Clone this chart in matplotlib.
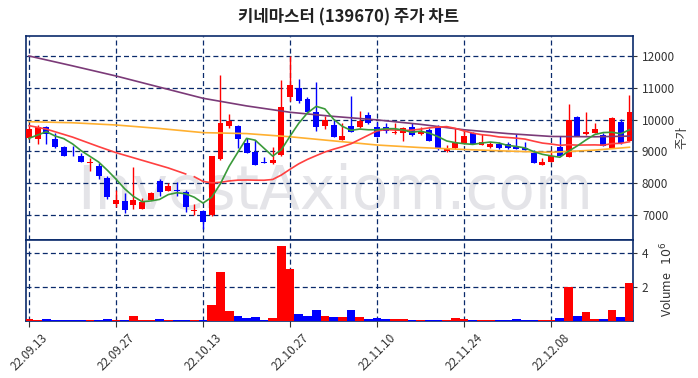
import numpy as np
import pandas as pd
import matplotlib
matplotlib.use("Agg")
import matplotlib.pyplot as plt

plt.rcParams['font.family'] = ['Noto Sans CJK KR', 'DejaVu Sans']

# trading-day labels (every 10th session)
tick_idx = [0, 10, 20, 30, 40, 50, 60]
tick_labels = ['22.09.13', '22.09.27', '22.10.13', '22.10.27', '22.11.10', '22.11.24', '22.12.08']

opens = [9410, 9380, 9780, 9390, 9150, 8900, 8850, 8630, 8540, 8160,
         7350, 7440, 7330, 7200, 7470, 8070, 7760, 7790, 7710, 7110,
         7130, 6990, 8750, 9800, 9800, 9250, 8970, 8660, 8630, 8890,
         10720, 10980, 10640, 10250, 9800, 9830, 9360, 9800, 9760, 10140,
         9780, 9780, 9570, 9570, 9780, 9540, 9670, 9780, 9020, 9100,
         9250, 9570, 9200, 9130, 9230, 9220, 9150, 9120, 8960, 8570,
         8680, 9150, 8830, 10090, 9540, 9590, 9520, 9120, 9910, 9340]
highs = [9800, 9830, 9800, 9580, 9180, 9170, 8960, 8780, 8645, 8230,
         7790, 7680, 8520, 7520, 7720, 8130, 8020, 8040, 7790, 7350,
         7160, 8860, 11400, 10170, 9830, 9410, 9360, 8830, 9130, 11250,
         12000, 11270, 10720, 11170, 10110, 10010, 9880, 10740, 10280, 10240,
         9930, 9900, 9900, 9780, 9900, 9780, 9750, 9830, 9200, 9730,
         9700, 9600, 9550, 9280, 9300, 9300, 9540, 9300, 9040, 8780,
         9040, 9480, 10490, 10100, 10240, 9880, 9570, 10070, 10010, 10770]
lows = [9400, 9230, 9230, 9120, 8860, 8870, 8660, 8390, 8140, 7490,
        7260, 7050, 7180, 7190, 7460, 7600, 7750, 7600, 7100, 7000,
        6550, 6980, 8740, 9730, 9100, 8940, 8560, 8620, 8590, 8850,
        10570, 10510, 10230, 9630, 9700, 9440, 9350, 9600, 9740, 9860,
        9440, 9570, 9560, 9330, 9480, 9530, 9330, 9040, 8970, 9090,
        9230, 9220, 9190, 9120, 9090, 9090, 9060, 9030, 8640, 8560,
        8670, 8850, 8830, 9470, 9530, 9580, 9160, 9110, 9240, 9330]
closes = [9700, 9760, 9540, 9130, 8870, 8880, 8680, 8660, 8240, 7580,
          7470, 7160, 7470, 7410, 7700, 7710, 7920, 7760, 7240, 7160,
          6790, 8850, 9890, 9970, 9380, 8960, 8560, 8630, 8730, 10390,
          11090, 10590, 10250, 9760, 9990, 9460, 9480, 9620, 9960, 9880,
          9460, 9650, 9620, 9750, 9520, 9640, 9340, 9070, 9070, 9250,
          9480, 9230, 9280, 9230, 9100, 9100, 9070, 9040, 8650, 8680,
          8850, 8860, 9990, 9480, 9620, 9700, 9170, 10040, 9250, 10230]
volumes = [0.12, 0.08, 0.12, 0.06, 0.06, 0.05, 0.05, 0.06, 0.05, 0.12,
           0.06, 0.06, 0.30, 0.06, 0.06, 0.12, 0.06, 0.05, 0.05, 0.05,
           0.06, 0.96, 2.88, 0.60, 0.30, 0.18, 0.24, 0.06, 0.18, 4.44,
           3.06, 0.42, 0.30, 0.65, 0.30, 0.26, 0.26, 0.66, 0.26, 0.12,
           0.18, 0.12, 0.12, 0.12, 0.06, 0.06, 0.06, 0.06, 0.06, 0.18,
           0.12, 0.06, 0.06, 0.06, 0.06, 0.05, 0.12, 0.06, 0.06, 0.06,
           0.06, 0.18, 2.00, 0.32, 0.54, 0.12, 0.12, 0.66, 0.26, 2.27]  # x 10^6

ma5_head = [9412, 9516, 9620, 9484]
ma20_head_idx = [0, 2, 5, 8, 10, 13, 16, 18]
ma20_head = [9810, 9700, 9450, 9150, 8960, 8720, 8480, 8290]
ma60_idx = [0, 5, 10, 15, 20, 25, 30, 35, 40, 45, 50, 55, 60, 65, 69]
ma60 = [9934, 9900, 9830, 9720, 9590, 9560, 9460, 9330, 9200, 9120, 9060, 9010, 8970, 9040, 9130]
ma120_idx = [0, 5, 10, 15, 20, 25, 30, 35, 40, 45, 50, 55, 60, 65, 69]
ma120 = [12000, 11690, 11371, 11020, 10670, 10430, 10230, 10100, 9990, 9850, 9680, 9560, 9470, 9460, 9480]

n = len(closes)
x = np.arange(n)
o = np.array(opens)
c = np.array(closes)
up = c >= o
col = np.where(up, '#ff0000', '#0000ff')

ma5 = pd.Series(closes).rolling(5).mean().values
ma5[:4] = ma5_head
ma20 = pd.Series(closes).rolling(20).mean().values

grid_c = '#0a2a6b'
spine_c = '#0a2a6b'

fig = plt.figure(figsize=(6.98, 3.78), dpi=100)
ax = fig.add_axes([0.0372, 0.3651, 0.8696, 0.5397])
axv = fig.add_axes([0.0372, 0.1508, 0.8696, 0.2143], sharex=ax)

ax.text(0.51, 0.235, 'InvestAxiom.com', transform=ax.transAxes, fontsize=43,
        family='DejaVu Sans', color='#e4e4e8', ha='center', va='center', zorder=0)

ax.vlines(x, lows, highs, colors=col, linewidth=1.0, zorder=3)
ax.bar(x, np.abs(c - o), bottom=np.minimum(o, c), width=0.68, color=col, zorder=3)

ax.plot(ma120_idx, ma120, color='#7b3a78', linewidth=1.2, zorder=4)
ax.plot(ma60_idx, ma60, color='#ffb030', linewidth=1.2, zorder=4)
ax.plot(ma20_head_idx, ma20_head, color='#ff4040', linewidth=1.2, zorder=4)
ax.plot(x[19:], ma20[19:], color='#ff4040', linewidth=1.2, zorder=4)
ax.plot(x, ma5, color='#3a9a3a', linewidth=1.2, zorder=4)

ax.set_ylim(6214, 12629)
ax.set_xlim(-0.35, n - 0.6)
ax.set_yticks([7000, 8000, 9000, 10000, 11000, 12000])
ax.yaxis.tick_right()
ax.yaxis.set_label_position('right')
ax.set_ylabel('주가', fontsize=9, color='#333333')
ax.yaxis.set_label_coords(1.070, 0.5)
ax.tick_params(axis='y', labelsize=8.5, colors='#333333', length=3)
ax.tick_params(axis='x', bottom=False, labelbottom=False)
ax.grid(True, color=grid_c, linestyle=(0, (4, 2.5)), linewidth=0.9)
ax.set_axisbelow(True)

axv.bar(x, volumes, width=1.0, color=col, zorder=3)
axv.set_ylim(0, 4.8)
axv.set_yticks([2, 4])
axv.yaxis.tick_right()
axv.yaxis.set_label_position('right')
axv.set_ylabel('Volume   $10^6$', fontsize=9, color='#333333')
axv.yaxis.set_label_coords(1.042, 0.52)
axv.tick_params(axis='y', labelsize=8.5, colors='#333333', length=3)
axv.set_xticks(tick_idx)
axv.set_xticklabels(tick_labels, rotation=45, fontsize=8.5, color='#333333',
                    ha='center')
axv.tick_params(axis='x', length=4, colors='#333333')
axv.grid(True, color=grid_c, linestyle=(0, (4, 2.5)), linewidth=0.9)
axv.set_axisbelow(True)

for a in (ax, axv):
    for s in a.spines.values():
        s.set_color(spine_c)
        s.set_linewidth(1.2)

fig.text(0.5, 0.953, '키네마스터 (139670) 주가 차트', ha='center', va='center',
         fontsize=12, fontweight='bold', color='#222222')

fig.savefig('out.png', dpi=100)
